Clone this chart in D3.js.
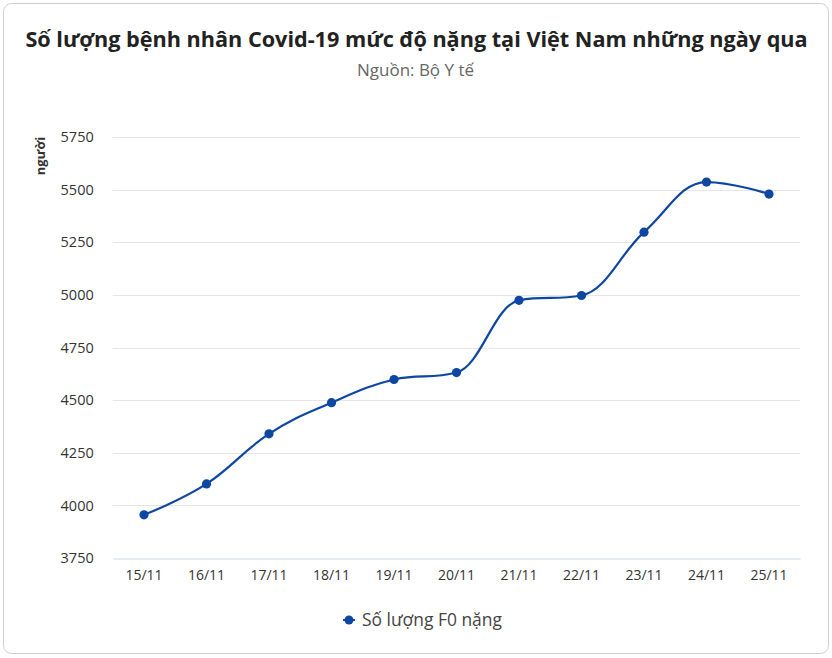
<!DOCTYPE html>
<html><head><meta charset="utf-8">
<script src="https://cdn.jsdelivr.net/npm/d3@7"></script>
<style>body{margin:0;background:#fff}svg{display:block}</style>
</head><body><svg id="c" width="832" height="658"></svg>
<script>
const categories = ["15/11","16/11","17/11","18/11","19/11","20/11","21/11","22/11","23/11","24/11","25/11"];
const values = [3955,4102,4340,4488,4598,4631,4974,4997,5298,5536,5479];
const yTicks = [3750,4000,4250,4500,4750,5000,5250,5500,5750];
const seriesName = "Số lượng F0 nặng";
const title = "Số lượng bệnh nhân Covid-19 mức độ nặng tại Việt Nam những ngày qua";
const subtitle = "Nguồn: Bộ Y tế";
const yTitle = "người";

const svg = d3.select("#c");
const FONT = "'Open Sans', Lato, sans-serif";
const TICKFONT = "'Open Sans', sans-serif";
const color = "#0d47a1";

function fit(sel, w){
  const n = sel.node(); const cur = n.getComputedTextLength();
  if (cur > 0) sel.attr("font-size", parseFloat(sel.attr("font-size")) * w / cur);
}

svg.append("rect").attr("x",3.5).attr("y",3.5).attr("width",825).attr("height",650)
  .attr("rx",8).attr("fill","#fff").attr("stroke","#cfcfcf");

const tt = svg.append("text").attr("x",416.5).attr("y",47).attr("text-anchor","middle")
  .attr("font-family",FONT).attr("font-weight",700).attr("font-size",20).attr("fill","#222").text(title);
fit(tt, 783);
const st = svg.append("text").attr("x",415.5).attr("y",76).attr("text-anchor","middle")
  .attr("font-family",FONT).attr("font-size",14).attr("fill","#666").text(subtitle);
fit(st, 117);

const pLeft=112.75, pRight=800.25, pTop=137, pBottom=558;
const x = d3.scaleBand().domain(categories).range([pLeft,pRight]);
const y = d3.scaleLinear().domain([3750,5750]).range([pBottom,pTop]);

svg.append("g").selectAll("line").data(yTicks.filter(d=>d!==3750)).join("line")
  .attr("x1",pLeft).attr("x2",pRight).attr("y1",d=>Math.round(y(d))+0.5).attr("y2",d=>Math.round(y(d))+0.5)
  .attr("stroke","#e6e6e6");

const yAxis = svg.append("g").attr("transform",`translate(${pLeft},0)`)
  .call(d3.axisLeft(y).tickValues(yTicks).tickSize(0).tickPadding(19).tickFormat(d3.format("d")));
yAxis.select(".domain").remove();
yAxis.selectAll("text").attr("font-family",TICKFONT).attr("font-size",14.5).attr("fill","#333");

const xAxis = svg.append("g").attr("transform",`translate(0,${pBottom+0.5})`)
  .call(d3.axisBottom(x).tickSize(0).tickPadding(12));
xAxis.select(".domain").attr("stroke","#ccd6eb");
xAxis.selectAll("text").attr("font-family",TICKFONT).attr("font-size",14).attr("fill","#333");

svg.append("text").attr("transform","translate(45,156) rotate(-90)").attr("text-anchor","middle")
  .attr("font-family",FONT).attr("font-weight",700).attr("font-size",13).attr("fill","#333").text(yTitle);

const pts = values.map((v,i)=>[x(categories[i])+x.bandwidth()/2, y(v)]);
const sm=1.5, den=sm+1;
const ctrl = pts.map((p,i)=>{
  if(i===0||i===pts.length-1) return null;
  const [lx,ly]=pts[i-1],[nx,ny]=pts[i+1],[px,py]=p;
  let lcx=(sm*px+lx)/den, lcy=(sm*py+ly)/den, rcx=(sm*px+nx)/den, rcy=(sm*py+ny)/den;
  const corr=((rcy-lcy)*(rcx-px))/(rcx-lcx)+py-rcy;
  lcy+=corr; rcy+=corr;
  if(lcy>ly&&lcy>py){lcy=Math.max(ly,py);rcy=2*py-lcy;}
  else if(lcy<ly&&lcy<py){lcy=Math.min(ly,py);rcy=2*py-lcy;}
  if(rcy>ny&&rcy>py){rcy=Math.max(ny,py);lcy=2*py-rcy;}
  else if(rcy<ny&&rcy<py){rcy=Math.min(ny,py);lcy=2*py-rcy;}
  return {lcx,lcy,rcx,rcy};
});
const path = d3.path();
pts.forEach((p,i)=>{
  if(i===0){path.moveTo(p[0],p[1]);return;}
  const pc=ctrl[i-1], c=ctrl[i], lp=pts[i-1];
  path.bezierCurveTo(pc?pc.rcx:lp[0], pc?pc.rcy:lp[1], c?c.lcx:p[0], c?c.lcy:p[1], p[0], p[1]);
});
svg.append("path").attr("d",path.toString()).attr("fill","none").attr("stroke",color).attr("stroke-width",2.2);

svg.append("g").selectAll("circle").data(values).join("circle")
  .attr("cx",(d,i)=>x(categories[i])+x.bandwidth()/2).attr("cy",d=>y(d)).attr("r",4.6).attr("fill",color);

const lg = svg.append("g").attr("transform","translate(349,620)");
lg.append("line").attr("x1",-6).attr("x2",6).attr("stroke",color).attr("stroke-width",2);
lg.append("circle").attr("r",4.5).attr("fill",color);
const lt = lg.append("text").attr("x",13).attr("y",6).attr("font-family",FONT).attr("font-size",16).attr("fill","#444").text(seriesName);
fit(lt, 140);
</script></body></html>
